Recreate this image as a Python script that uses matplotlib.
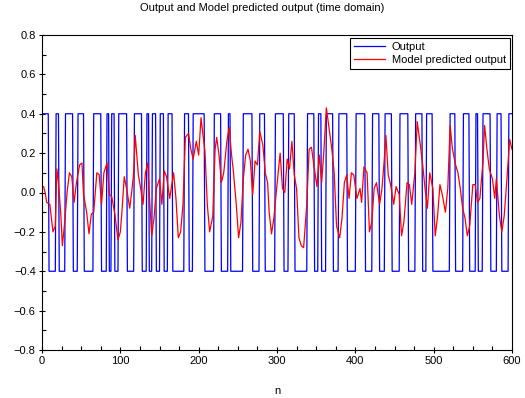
import numpy as np
import matplotlib
matplotlib.use("Agg")
import matplotlib.pyplot as plt
from matplotlib.ticker import MultipleLocator

# Blue "Output": square wave toggling between two levels, starting high.
out_levels = [0.4, -0.4]
out_switches = [8, 17, 21, 29, 39, 45, 53, 65, 75, 82, 85, 88, 92, 97, 108, 117,
                127, 133, 136, 140, 145, 150, 155, 160, 166, 181, 187, 192, 207,
                219, 228, 237, 240, 256, 268, 277, 284, 297, 308, 314, 322, 338,
                347, 352, 356, 362, 371, 378, 389, 400, 412, 421, 430, 437, 446,
                456, 467, 476, 485, 490, 498, 520, 527, 537, 545, 553, 556, 562,
                572, 580, 586, 595]
n_total = 600

# Red "Model predicted output": points (sample, value)
red_n1 = [0, 2, 4, 6, 10, 14, 17, 19, 21, 24, 26, 29, 32, 35, 38, 41, 44, 48,
          51, 53, 57, 60, 63, 66, 70, 73, 76, 79, 83, 86, 89, 93, 97]
red_y1 = [0.03, 0.03, 0.0, -0.05, -0.06, -0.2, -0.17, 0.12, 0.05, -0.11, -0.27,
          -0.15, 0.0, 0.1, 0.08, -0.05, 0.05, 0.14, 0.15, -0.01, -0.1, -0.21,
          -0.11, -0.1, 0.1, 0.09, -0.06, 0.1, 0.15, -0.01, -0.02, -0.11, -0.24]
red_n2 = [100, 102, 105, 108, 112, 115, 117, 119, 121, 123, 126, 129, 132, 135,
          137, 140, 143, 146, 150, 153, 156, 159, 163, 168, 171, 174, 177, 180,
          183, 187, 190, 193, 197, 200, 203]
red_y2 = [-0.2, -0.1, 0.08, 0.02, -0.08, 0.02, 0.1, 0.29, 0.19, 0.09, 0.02,
          -0.06, 0.1, 0.15, -0.01, -0.22, -0.13, 0.02, 0.07, -0.06, 0.11, 0.08,
          -0.03, 0.1, -0.03, -0.23, -0.2, -0.06, 0.28, 0.3, 0.22, 0.17, 0.26,
          0.19, 0.38]
red_n3 = [205, 208, 211, 214, 218, 221, 223, 226, 229, 232, 236, 239, 242, 244,
          248, 251, 254, 257, 260, 263, 266, 269, 272, 275, 278, 282, 285, 288,
          290, 293, 296, 300]
red_y3 = [0.31, 0.21, -0.06, -0.2, -0.12, 0.22, 0.28, 0.19, 0.05, 0.1, 0.26,
          0.33, 0.19, 0.12, -0.06, -0.23, -0.15, 0.07, 0.19, 0.22, 0.16, -0.01,
          0.16, 0.14, 0.31, 0.24, 0.1, 0.05, -0.1, -0.21, -0.13, 0.04]
red_n4 = [304, 307, 310, 313, 316, 319, 322, 325, 328, 331, 334, 338, 341, 344,
          347, 351, 354, 357, 360, 363, 367, 370, 373, 376, 380, 383, 386, 389,
          392, 395, 398, 402]
red_y4 = [0.2, 0.02, 0.0, 0.17, 0.12, 0.26, 0.09, 0.02, -0.23, -0.27, -0.28,
          -0.06, 0.22, 0.23, 0.14, 0.03, 0.19, 0.05, 0.22, 0.43, 0.31, 0.22, 0.1,
          -0.17, -0.23, -0.13, 0.05, 0.09, -0.03, 0.1, 0.09, -0.03]
red_n5 = [406, 408, 411, 415, 418, 421, 424, 427, 431, 434, 437, 439, 442, 445,
          449, 452, 456, 459, 462, 466, 469, 472, 476, 479, 483, 486, 489, 492,
          495, 499, 502]
red_y5 = [0.02, -0.05, 0.13, 0.1, -0.2, -0.15, 0.02, 0.05, -0.06, 0.02, 0.17,
          0.29, 0.09, 0.04, -0.06, 0.03, -0.01, -0.22, -0.15, 0.05, 0.04, -0.06,
          0.1, 0.36, 0.24, 0.14, 0.02, -0.08, 0.1, 0.02, -0.22]
red_n6 = [505, 508, 511, 515, 518, 521, 524, 528, 531, 534, 537, 540, 543, 546,
          550, 553, 556, 559, 563, 565, 568, 571, 575, 578, 580, 584, 587, 590,
          593, 597, 600]
red_y6 = [-0.12, 0.04, -0.01, -0.1, 0.02, 0.34, 0.22, 0.14, 0.1, 0.02, -0.08,
          -0.13, -0.22, -0.17, 0.04, 0.04, -0.05, -0.03, 0.16, 0.34, 0.22, 0.12,
          0.07, -0.03, 0.07, -0.12, -0.2, -0.12, 0.04, 0.27, 0.22]

x_ticks = [0, 100, 200, 300, 400, 500, 600]
y_ticks = [-0.8, -0.6, -0.4, -0.2, 0.0, 0.2, 0.4, 0.6, 0.8]
y_labels = ["\u22120.8", "\u22120.6", "\u22120.4", "\u22120.2", "0.0",
            "0.2", "0.4", "0.6", "0.8"]

red_n = red_n1 + red_n2 + red_n3 + red_n4 + red_n5 + red_n6
red_y = red_y1 + red_y2 + red_y3 + red_y4 + red_y5 + red_y6

# Decode the output run list into per-sample values
bounds = [0] + out_switches + [n_total]
lengths = np.diff(bounds)
lev = [out_levels[i % 2] for i in range(len(lengths))]
out_vals = np.repeat(lev, lengths)
out_n = np.arange(n_total) + 1

plt.rcParams['font.family'] = ['Liberation Sans', 'DejaVu Sans']
fs = 8
fig = plt.figure(figsize=(5.25, 3.98), dpi=100)
ax = fig.add_axes([42/525, 1 - 350/398, 470/525, 315/398])

ax.plot(out_n, out_vals, color=(0, 0, 1), lw=0.9, label="Output")
ax.plot(red_n, red_y, color=(1, 0, 0), lw=0.9, label="Model predicted output")

ax.set_xlim(0, 600)
ax.set_ylim(-0.8, 0.8)
ax.set_xticks(x_ticks)
ax.set_xticklabels([str(v) for v in x_ticks], fontsize=fs)
ax.set_yticks(y_ticks)
ax.set_yticklabels(y_labels, fontsize=fs)
ax.xaxis.set_minor_locator(MultipleLocator(25))
ax.yaxis.set_minor_locator(MultipleLocator(0.1))
ax.tick_params(which='major', direction='inout', length=5, width=0.8, pad=2)
ax.tick_params(which='minor', direction='in', length=3, width=0.8)
for s in ax.spines.values():
    s.set_linewidth(0.8)

ax.set_xlabel("n", fontsize=fs, labelpad=14)
fig.text(0.5, 1 - 8/398, "Output and Model predicted output (time domain)",
         ha='center', va='center', fontsize=fs)

leg = ax.legend(loc='upper right', bbox_to_anchor=(510/525, 1 - 38/398),
                bbox_transform=fig.transFigure, fontsize=fs, frameon=True,
                fancybox=False, edgecolor='black', framealpha=1, borderpad=0.35,
                labelspacing=0.25, handlelength=2.8, handletextpad=0.6,
                borderaxespad=0)
leg.get_frame().set_linewidth(0.8)

fig.savefig("out.png", dpi=100)
